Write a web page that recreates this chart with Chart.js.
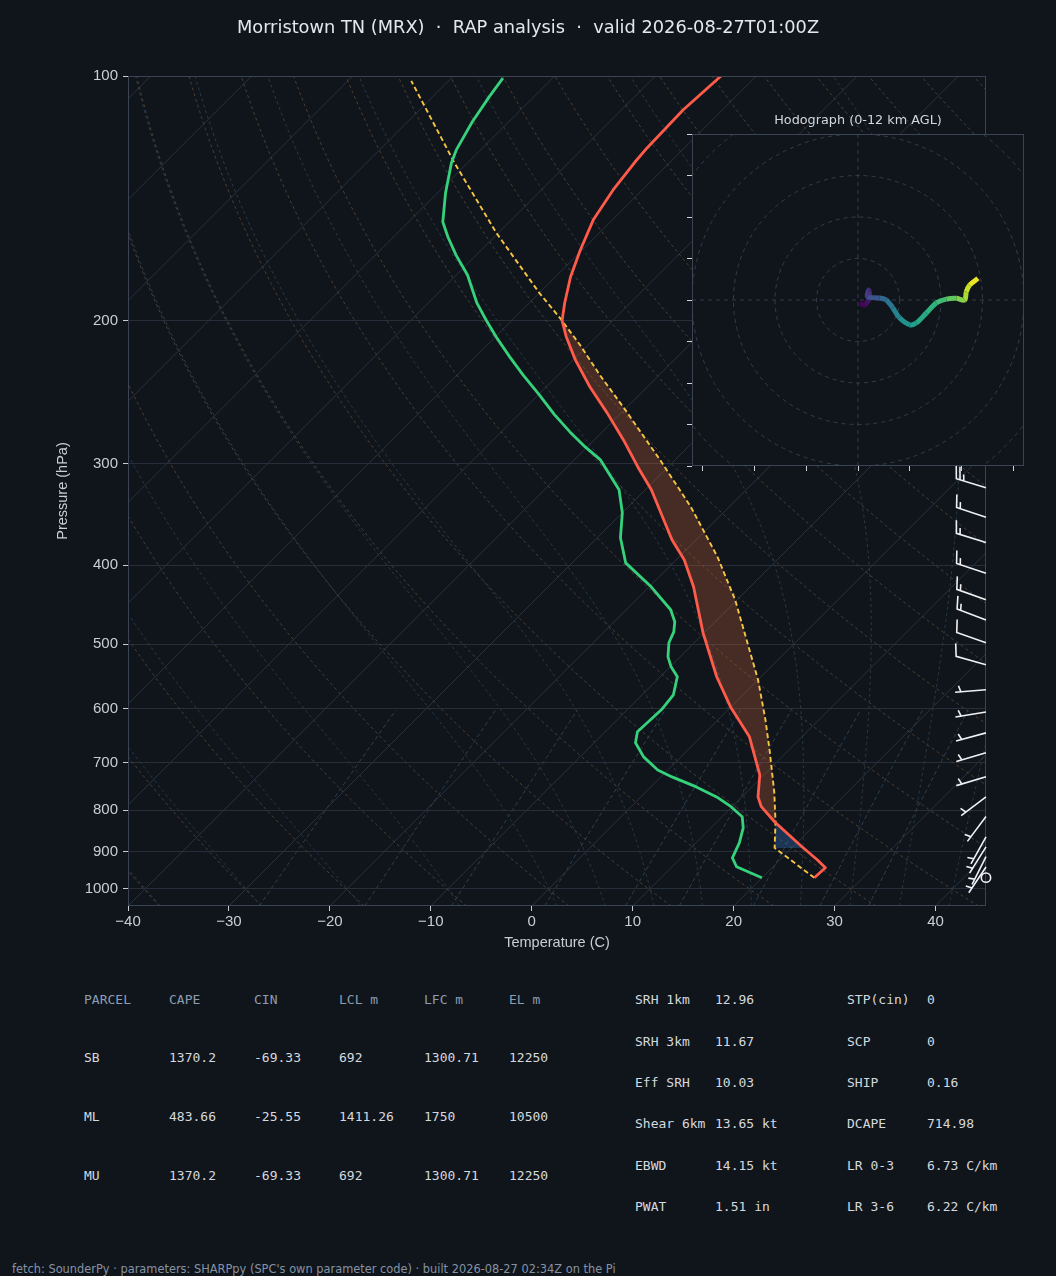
<!DOCTYPE html>
<html><head><meta charset="utf-8">
<script src="https://cdn.jsdelivr.net/npm/chart.js@4.4.1/dist/chart.umd.min.js"></script>
<style>
html,body{margin:0;padding:0;background:#10151c;}
body{width:1056px;height:1276px;position:relative;overflow:hidden;font-family:'DejaVu Sans',sans-serif;}
#main{position:absolute;left:0;top:0;}
#hodo{position:absolute;left:672px;top:114px;}
.t{position:absolute;white-space:pre;}
.title{left:0;width:1056px;text-align:center;top:16px;font-size:17.8px;line-height:22px;color:#e4e7eb;}
.htitle{left:692px;width:332px;text-align:center;top:112px;font-size:12.8px;line-height:16px;color:#d3d7dd;}
.tb{font-family:'DejaVu Sans Mono',monospace;font-size:13px;line-height:16px;color:#d5d9df;}
.hd{color:#8c9db1;}
.foot{left:12px;top:1262px;font-size:11.4px;line-height:14px;color:#8592a3;}
</style></head><body>
<canvas id="main" width="1056" height="970"></canvas>
<canvas id="hodo" width="372" height="372"></canvas>
<div class="t title">Morristown TN (MRX)  ·  RAP analysis  ·  valid 2026-08-27T01:00Z</div>
<div class="t htitle">Hodograph (0-12 km AGL)</div>
<div id="tables"></div>
<div class="t foot">fetch: SounderPy · parameters: SHARPpy (SPC's own parameter code) · built 2026-08-27 02:34Z on the Pi</div>
<script>
// ---------------- DATA ----------------
const tempP = [969.4, 942.3, 921.1, 887.8, 827.1, 792.5, 770.8, 724.3, 650.2, 598.9, 548.4, 484.3, 425.1, 393.8, 372.1, 322.9, 302.7, 280.4, 259.7, 241.2, 223.5, 209.3, 200.0, 190.2, 176.7, 163.7, 150.3, 138.1, 127.6, 122.6, 110.1, 100.0];
const tempT = [25.2, 25.3, 23.7, 20.9, 15.7, 12.9, 11.6, 9.6, 4.8, 0.1, -4.4, -10.1, -15.6, -19.2, -22.4, -29.4, -33.0, -37.1, -41.4, -45.7, -49.8, -53.0, -55.0, -56.5, -58.5, -60.2, -61.9, -62.9, -63.5, -63.7, -63.9, -63.5];

const dewP = [969.4, 939.5, 916.0, 877.9, 841.4, 815.3, 792.5, 770.8, 749.3, 728.4, 714.2, 688.2, 661.2, 640.9, 602.3, 577.2, 548.4, 533.2, 518.3, 498.1, 482.9, 469.3, 453.6, 425.1, 397.2, 370.0, 344.6, 322.9, 296.7, 286.0, 274.1, 261.2, 246.8, 233.2, 221.6, 209.5, 199.6, 190.2, 175.7, 166.1, 157.8, 151.2, 139.3, 127.9, 123.3, 113.9, 106.1, 100.6];
const dewT = [20.0, 16.4, 15.1, 14.3, 13.2, 12.0, 9.9, 7.5, 4.5, 1.1, -1.0, -3.7, -5.9, -6.8, -6.6, -6.9, -8.3, -9.9, -11.2, -12.5, -13.1, -14.0, -15.6, -19.8, -24.7, -27.7, -30.0, -32.6, -37.4, -40.2, -43.2, -46.4, -49.9, -53.5, -56.6, -59.9, -62.6, -65.2, -68.9, -72.0, -74.6, -76.6, -79.2, -81.6, -82.4, -83.6, -84.4, -84.9];

const parcelP = [969.4, 890.6, 827.1, 761.7, 680.1, 619.6, 553.2, 503.9, 441.0, 390.5, 338.9, 296.7, 284.5, 257.5, 233.2, 214.3, 198.4, 184.9, 156.0, 127.9, 101.4];
const parcelT = [25.2, 18.3, 15.8, 12.8, 8.4, 4.7, 0.0, -4.2, -10.2, -16.2, -23.8, -31.5, -34.0, -39.9, -45.9, -50.8, -55.5, -60.0, -70.2, -81.3, -93.7];
const lclP = 890.6;

const barbP = [969, 940, 913, 888, 863, 815, 771, 728, 680, 643, 606, 569, 530, 498, 467, 441, 409, 375, 349, 321, 298, 276, 256, 237, 220, 204, 189, 175, 163, 151, 140, 130, 121];
const barbU = [0, 2, 2, 2.5, 2.5, 3, 4, 5, 5, 5.5, 6, 6, 9, 10, 13, 14, 15, 16, 15, 23, 23, 24, 25, 25.5, 26, 27, 28, 29, 29, 30, 30, 31, 25];
const barbV = [0, 3, 4, 4, 4.5, 4, 3, 1.5, 1.5, 1.5, 1, 0.5, -2.5, -3.5, -5, -5, -5, -5, -5, -7, 0.4, 0.3, 0, 0.5, 2, 3.5, 5, 5.5, 6, 6, 6.5, 6, 3];

const hodoU = [0.4, 1.6, 2.3, 2.8, 2.6, 2.3, 5.2, 6.8, 8.4, 10.0, 12.5, 14.1, 16.5, 18.9, 21.3, 23.7, 25.7, 26.1, 26.9, 28.9];
const hodoV = [-0.8, -1.2, -0.4, 0.8, 2.4, 0.8, 0.5, 0.0, -1.9, -4.3, -6.0, -5.5, -3.1, -0.7, 0.2, 0.4, 0.0, 2.0, 3.6, 5.2];
const hodoZ = [0, 0.3, 0.6, 1.0, 1.5, 2.6, 3.6, 4.3, 5.0, 5.7, 6.4, 6.9, 7.4, 7.9, 8.6, 9.3, 10.1, 10.7, 11.3, 12.0];

const yTicks = [100, 200, 300, 400, 500, 600, 700, 800, 900, 1000];
const xTicks = [-40, -30, -20, -10, 0, 10, 20, 30, 40];
const hodoXTicks = [-37.5, -25, -12.5, 0, 12.5, 25, 37.5];
const hodoYTicks = [-40, -30, -20, -10, 0, 10, 20, 30, 40];
const hodoRings = [10, 20, 30, 40, 50];

const dryTheta = []; for (let th = 233; th <= 523; th += 10) dryTheta.push(th);       // K
const moistT0 = [-40, -30, -20, -10, 0, 5, 10, 15, 20, 25, 30, 35, 40, 45];          // degC at 1000 hPa
const mixW = [0.4, 1, 2, 4, 7, 10, 16, 24, 32];                                     // g/kg
const isoT = []; for (let t = -120; t <= 40; t += 10) isoT.push(t);

const parcelHeaders = ['PARCEL', 'CAPE', 'CIN', 'LCL m', 'LFC m', 'EL m'];
const parcelNames = ['SB', 'ML', 'MU'];
const capeVals = ['1370.2', '483.66', '1370.2'];
const cinVals = ['-69.33', '-25.55', '-69.33'];
const lclVals = ['692', '1411.26', '692'];
const lfcVals = ['1300.71', '1750', '1300.71'];
const elVals = ['12250', '10500', '12250'];
const kinLabels = ['SRH 1km', 'SRH 3km', 'Eff SRH', 'Shear 6km', 'EBWD', 'PWAT'];
const kinVals = ['12.96', '11.67', '10.03', '13.65 kt', '14.15 kt', '1.51 in'];
const thermoLabels = ['STP(cin)', 'SCP', 'SHIP', 'DCAPE', 'LR 0-3', 'LR 3-6'];
const thermoVals = ['0', '0', '0.16', '714.98', '6.73 C/km', '6.22 C/km'];

// ---------------- STYLE / HELPERS ----------------
const BG = '#10151c';
const P_TOP = 100, P_BOT = 1050;
const SKEW = 82.25;         // 45 degree skew in pixel space, expressed in degC across the axis height
const BARB_LEN = 31;
const skx = (T, p) => T + SKEW * Math.log(P_BOT / p) / Math.log(P_BOT / P_TOP);
const prof = (P, T) => P.map((p, i) => ({x: skx(T[i], p), y: p}));

const pLevels = []; for (let i = 0; i <= 140; i++) pLevels.push(P_BOT * Math.pow(P_TOP / P_BOT, i / 140));

const Rd = 287.04749, Cp = 1004.6662, Lv = 2.50084e6, EPS = 0.6219569;
const esat = Tk => { const c = Tk - 273.15; return 6.112 * Math.exp(17.67 * c / (c + 243.5)); };
function dTdp(p, T) { const es = esat(T); const rs = EPS * es / (p - es);
  return (Rd * T + Lv * rs) / (Cp + Lv * Lv * rs * EPS / (Rd * T * T)) / p; }
function moistLine(t0c) {
  const pts = [{p: 1000, T: t0c + 273.15}];
  const run = (dir) => {
    let T = t0c + 273.15, p = 1000;
    const target = dir < 0 ? P_TOP : P_BOT;
    while ((dir < 0 && p > target + 1e-6) || (dir > 0 && p < target - 1e-6)) {
      let hh = dir * 2.5;
      if (dir < 0 && p + hh < target) hh = target - p;
      if (dir > 0 && p + hh > target) hh = target - p;
      const k1 = dTdp(p, T), k2 = dTdp(p + hh / 2, T + hh * k1 / 2), k3 = dTdp(p + hh / 2, T + hh * k2 / 2), k4 = dTdp(p + hh, T + hh * k3);
      T += hh * (k1 + 2 * k2 + 2 * k3 + k4) / 6; p += hh;
      pts.push({p, T});
    }
  };
  run(-1); run(1);
  return pts.sort((a, b) => b.p - a.p).map(o => ({x: skx(o.T - 273.15, o.p), y: o.p}));
}

function interpLogP(P, T, p) {
  for (let i = 0; i < P.length - 1; i++) {
    if (P[i] >= p && p >= P[i + 1]) {
      const f = (Math.log(P[i]) - Math.log(p)) / (Math.log(P[i]) - Math.log(P[i + 1]));
      return T[i] + f * (T[i + 1] - T[i]);
    }
  }
  return NaN;
}
function shadePolys(pHi, pLo, sign) {
  let lv = [...parcelP, ...tempP, pHi, pLo].filter(p => p <= pHi && p >= pLo);
  lv = [...new Set(lv.map(p => +p.toFixed(3)))].sort((a, b) => b - a);
  const pts = lv.map(p => ({p, a: interpLogP(parcelP, parcelT, p), e: interpLogP(tempP, tempT, p)}));
  const seq = [];
  for (let i = 0; i < pts.length; i++) {
    seq.push(pts[i]);
    if (i < pts.length - 1) {
      const d0 = pts[i].a - pts[i].e, d1 = pts[i + 1].a - pts[i + 1].e;
      if (d0 * d1 < 0) {
        const f = d0 / (d0 - d1);
        const pc = Math.exp(Math.log(pts[i].p) + f * (Math.log(pts[i + 1].p) - Math.log(pts[i].p)));
        const tc = interpLogP(parcelP, parcelT, pc);
        seq.push({p: pc, a: tc, e: tc});
      }
    }
  }
  const polys = []; let cur = [];
  for (const s of seq) {
    const d = sign * (s.a - s.e);
    if (d >= 0) cur.push(s); else { if (cur.length > 1) polys.push(cur); cur = []; }
  }
  if (cur.length > 1) polys.push(cur);
  return polys.filter(c => c.some(s => sign * (s.a - s.e) > 1e-6)).map(c => [
    ...c.map(s => ({x: skx(s.a, s.p), y: s.p})),
    ...c.slice().reverse().map(s => ({x: skx(s.e, s.p), y: s.p}))
  ]);
}

// ---------------- DATASETS ----------------
const base = {pointRadius: 0, pointHoverRadius: 0, fill: false, tension: 0, clip: 0, borderCapStyle: 'butt'};
const ds = [];
ds.push({...base, data: prof(tempP, tempT), borderColor: '#ff5b4a', borderWidth: 2.8, borderJoinStyle: 'round', order: 0});
ds.push({...base, data: prof(dewP, dewT), borderColor: '#35d27b', borderWidth: 2.8, borderJoinStyle: 'round', order: 1});
ds.push({...base, data: prof(parcelP, parcelT), borderColor: '#f5c443', borderWidth: 1.9, borderDash: [5, 3], order: 2});
shadePolys(parcelP[0], parcelP[parcelP.length - 1], 1).forEach(poly =>
  ds.push({...base, data: poly, fill: 'shape', borderWidth: 0, borderColor: 'rgba(0,0,0,0)', backgroundColor: 'rgba(200,100,60,0.30)', order: 3}));
shadePolys(lclP, 700, -1).forEach(poly =>
  ds.push({...base, data: poly, fill: 'shape', borderWidth: 0, borderColor: 'rgba(0,0,0,0)', backgroundColor: 'rgba(60,120,205,0.32)', order: 3}));
mixW.forEach(w => {
  const pts = pLevels.filter(p => p >= 600).map(p => { const e = p * (w / 1000) / (EPS + w / 1000); const l = Math.log(e / 6.112);
    return {x: skx(243.5 * l / (17.67 - l), p), y: p}; });
  ds.push({...base, data: pts, borderColor: '#2a4150', borderWidth: 1, borderDash: [4, 3], order: 5});
});
moistT0.forEach(t0 => ds.push({...base, data: moistLine(t0), borderColor: '#283b47', borderWidth: 1, borderDash: [3, 3], order: 6}));
dryTheta.forEach(th => ds.push({...base, data: pLevels.map(p => ({x: skx(th * Math.pow(p / 1000, 0.28571) - 273.15, p), y: p})),
  borderColor: '#4c3f30', borderWidth: 1, borderDash: [3, 3], order: 7}));
isoT.forEach(t => ds.push({...base, data: [{x: skx(t, P_BOT), y: P_BOT}, {x: skx(t, P_TOP), y: P_TOP}], borderColor: '#2a323d', borderWidth: 1, order: 8}));

// ---------------- PLUGINS ----------------
function drawBarb(ctx, x0, y0, u, v, L) {
  let mag = 5 * Math.round(Math.hypot(u, v) / 5);
  const nflags = Math.floor(mag / 50); mag -= nflags * 50;
  const nbarbs = Math.floor(mag / 10); mag -= nbarbs * 10;
  const half = mag >= 5;
  if (nflags + nbarbs + (half ? 1 : 0) === 0) { ctx.beginPath(); ctx.arc(x0, y0, L * 0.15, 0, 2 * Math.PI); ctx.stroke(); return; }
  const ang = Math.atan2(v, u) + Math.PI / 2, ca = Math.cos(ang), sa = Math.sin(ang);
  const fh = 0.4 * L, fw = 0.25 * L, sp = 0.125 * L;
  const pts = [[0, 0]]; let off = L;
  for (let i = 0; i < nflags; i++) { if (off !== L) off += sp / 2; pts.push([0, off], [fh, off - fw / 2], [0, off - fw]); off -= fw + sp; }
  for (let i = 0; i < nbarbs; i++) { pts.push([0, off], [fh, off + fw / 2], [0, off]); off -= sp; }
  if (half) { if (off === L) { pts.push([0, off]); off -= 1.5 * sp; } pts.push([0, off], [fh / 2, off + fw / 4], [0, off]); }
  ctx.beginPath();
  pts.forEach(([px, py], i) => { const X = x0 + px * ca - py * sa, Y = y0 - (px * sa + py * ca); i ? ctx.lineTo(X, Y) : ctx.moveTo(X, Y); });
  ctx.stroke();
}
const mainPlugin = {
  id: 'skewDeco',
  beforeDraw(chart) { const c = chart.ctx; c.save(); c.fillStyle = BG; c.fillRect(0, 0, chart.width, chart.height); c.restore(); },
  afterDatasetsDraw(chart) {
    const {ctx, chartArea: a, scales: {y}} = chart;
    ctx.save();
    ctx.strokeStyle = '#3a4453'; ctx.lineWidth = 1;
    ctx.strokeRect(a.left + 0.5, a.top + 0.5, a.width - 1, a.height - 1);
    ctx.strokeStyle = '#eef0f3'; ctx.lineWidth = 1.6; ctx.lineJoin = 'miter';
    barbP.forEach((p, i) => drawBarb(ctx, a.right, y.getPixelForValue(p), barbU[i], barbV[i], BARB_LEN));
    ctx.restore();
  }
};
const tickCol = '#c9ced6';
new Chart(document.getElementById('main'), {
  type: 'line',
  data: {datasets: ds},
  options: {
    responsive: false, animation: false, events: [],
    layout: {padding: {left: 0, top: 76, right: 70, bottom: 14}},
    plugins: {legend: {display: false}, tooltip: {enabled: false}, title: {display: false}},
    scales: {
      x: {type: 'linear', min: -40, max: 45,
        afterBuildTicks: s => { s.ticks = xTicks.map(v => ({value: v})); },
        afterFit: s => { s.height = 50; },
        ticks: {callback: v => v < 0 ? '\u2212' + Math.abs(v) : String(v), color: tickCol, font: {size: 15}, padding: 2, maxRotation: 0, autoSkip: false},
        grid: {drawOnChartArea: false, tickLength: 5, tickColor: tickCol},
        border: {display: false},
        title: {display: true, text: 'Temperature (C)', color: tickCol, font: {size: 14.5}, padding: {top: 0, bottom: 4}}},
      y: {type: 'logarithmic', reverse: true, min: P_TOP, max: P_BOT,
        afterBuildTicks: s => { s.ticks = yTicks.map(v => ({value: v})); },
        afterFit: s => { s.width = 128; },
        ticks: {callback: v => String(v), color: tickCol, font: {size: 15}, padding: 5, autoSkip: false},
        grid: {color: '#262e39', lineWidth: 1, tickLength: 5, tickColor: tickCol},
        border: {display: false},
        title: {display: true, text: 'Pressure (hPa)', color: tickCol, font: {size: 14.5}, padding: {top: 54, bottom: 0}}}
    }
  },
  plugins: [mainPlugin]
});

// ---------------- HODOGRAPH ----------------
const VIR = ['#440154', '#482878', '#3e4989', '#31688e', '#26828e', '#1f9e89', '#35b779', '#6ece58', '#b5de2b', '#fde725'];
function viridis(f) {
  f = Math.max(0, Math.min(1, f)); const s = f * (VIR.length - 1), i = Math.min(VIR.length - 2, Math.floor(s)), t = s - i;
  const a = VIR[i], b = VIR[i + 1], h = (c, k) => parseInt(c.substr(1 + 2 * k, 2), 16);
  return 'rgb(' + [0, 1, 2].map(k => Math.round(h(a, k) + t * (h(b, k) - h(a, k)))).join(',') + ')';
}
const hodoPlugin = {
  id: 'hodoDeco',
  beforeDraw(chart) {
    const {ctx, chartArea: a, scales: {x, y}} = chart;
    ctx.save();
    ctx.fillStyle = BG; ctx.fillRect(a.left, a.top, a.width, a.height);
    ctx.beginPath(); ctx.rect(a.left, a.top, a.width, a.height); ctx.clip();
    ctx.strokeStyle = '#333d4b'; ctx.lineWidth = 1; ctx.setLineDash([4, 4]);
    const cx = x.getPixelForValue(0), cy = y.getPixelForValue(0);
    hodoRings.forEach(r => { const rp = x.getPixelForValue(r) - cx; ctx.beginPath(); ctx.arc(cx, cy, rp, 0, 2 * Math.PI); ctx.stroke(); });
    ctx.beginPath(); ctx.moveTo(a.left, cy); ctx.lineTo(a.right, cy); ctx.moveTo(cx, a.top); ctx.lineTo(cx, a.bottom); ctx.stroke();
    ctx.restore();
  },
  afterDraw(chart) {
    const {ctx, chartArea: a} = chart;
    ctx.save(); ctx.strokeStyle = '#3a4453'; ctx.lineWidth = 1;
    ctx.strokeRect(a.left + 0.5, a.top + 0.5, a.width - 1, a.height - 1); ctx.restore();
  }
};
new Chart(document.getElementById('hodo'), {
  type: 'line',
  data: {datasets: [{data: hodoU.map((u, i) => ({x: u, y: hodoV[i]})), pointRadius: 0, borderWidth: 5, tension: 0.3, clip: 0,
    borderColor: viridis(0), borderCapStyle: 'butt',
    segment: {borderColor: c => viridis((hodoZ[c.p0DataIndex] + hodoZ[c.p1DataIndex]) / 2 / 12)}}]},
  options: {
    responsive: false, animation: false, events: [],
    layout: {padding: {left: 0, top: 20, right: 20, bottom: 0}},
    plugins: {legend: {display: false}, tooltip: {enabled: false}},
    scales: {
      x: {type: 'linear', min: -40, max: 40, afterBuildTicks: s => { s.ticks = hodoXTicks.map(v => ({value: v})); },
        afterFit: s => { s.height = 20; }, ticks: {display: false}, grid: {drawOnChartArea: false, tickLength: 5, tickColor: '#d0d4da'}, border: {display: false}},
      y: {type: 'linear', min: -40, max: 40, afterBuildTicks: s => { s.ticks = hodoYTicks.map(v => ({value: v})); },
        afterFit: s => { s.width = 20; }, ticks: {display: false}, grid: {drawOnChartArea: false, tickLength: 5, tickColor: '#d0d4da'}, border: {display: false}}
    }
  },
  plugins: [hodoPlugin]
});

// ---------------- TABLES ----------------
const tbl = document.getElementById('tables');
function put(txt, x, yc, cls) { const d = document.createElement('div'); d.className = 't tb ' + (cls || ''); d.textContent = txt;
  d.style.left = x + 'px'; d.style.top = (yc - 8) + 'px'; tbl.appendChild(d); }
const colX = [84, 169, 254, 339, 424, 509];
parcelHeaders.forEach((h, i) => put(h, colX[i], 1000, 'hd'));
const rowY = [1058, 1117, 1176];
parcelNames.forEach((n, r) => [n, capeVals[r], cinVals[r], lclVals[r], lfcVals[r], elVals[r]].forEach((v, i) => put(v, colX[i], rowY[r])));
const kRowY = [1000, 1041.5, 1083, 1124, 1165.5, 1207];
kinLabels.forEach((l, r) => { put(l, 635, kRowY[r]); put(kinVals[r], 715, kRowY[r]); put(thermoLabels[r], 847, kRowY[r]); put(thermoVals[r], 927, kRowY[r]); });
</script>
</body></html>
